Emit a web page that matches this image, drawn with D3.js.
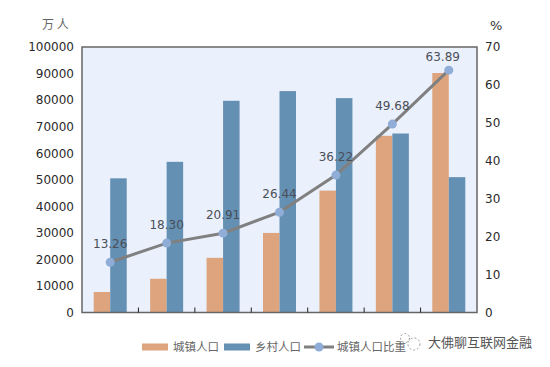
<!DOCTYPE html>
<html>
<head>
<meta charset="utf-8">
<script src="https://d3js.org/d3.v7.min.js"></script>
<style>
    html, body { margin: 0; padding: 0; background: #fff; }
    svg { display: block; }
    text { font-family: "DejaVu Sans", sans-serif; }
    .cjk { font-family: "Noto Sans CJK SC", sans-serif; }
</style>
</head>
<body>
<div id="chart"></div>
<script>
/** DATA */
// census years, the reference does not print them on the axis
const categories = ["1953", "1964", "1982", "1990", "2000", "2010", "2020"];
const urbanPop = [7726, 12710, 20591, 29971, 45906, 66557, 90199];
const ruralPop = [50534, 56748, 79736, 83397, 80739, 67415, 50979];
const urbanShare = [13.26, 18.30, 20.91, 26.44, 36.22, 49.68, 63.89];
const popTicks = [0, 10000, 20000, 30000, 40000, 50000, 60000, 70000, 80000, 90000, 100000];
const shareTicks = [0, 10, 20, 30, 40, 50, 60, 70];
const legendNames = ["城镇人口", "乡村人口", "城镇人口比重"];

// COLORS
const urbanColor = "#dda47d";
const ruralColor = "#6490b3";
const lineColor = "#808080";
const dotColor = "#8fadd6";

/** CHART */
const width = 550, height = 367;
const plotLeft = 82, plotRight = 477, plotTop = 47, plotBottom = 312.5;
const barW = 16.5;

const svg = d3.select("#chart").append("svg")
    .attr("width", width)
    .attr("height", height);

const x = d3.scaleBand().domain(categories).range([plotLeft, plotRight]);
const yPop = d3.scaleLinear().domain([0, 100000]).range([plotBottom, plotTop]);
const yShare = d3.scaleLinear().domain([0, 70]).range([plotBottom, plotTop]);

// plot background
svg.append("rect")
    .attr("x", plotLeft).attr("y", plotTop)
    .attr("width", plotRight - plotLeft).attr("height", plotBottom - plotTop)
    .attr("fill", "#eaf0fc");

// BARS
const center = d => x(d) + x.bandwidth() / 2;

svg.append("g").selectAll("rect")
    .data(categories)
    .join("rect")
    .attr("x", d => center(d) - barW)
    .attr("y", (d, i) => yPop(urbanPop[i]))
    .attr("width", barW)
    .attr("height", (d, i) => plotBottom - yPop(urbanPop[i]))
    .attr("fill", urbanColor);

svg.append("g").selectAll("rect")
    .data(categories)
    .join("rect")
    .attr("x", d => center(d))
    .attr("y", (d, i) => yPop(ruralPop[i]))
    .attr("width", barW)
    .attr("height", (d, i) => plotBottom - yPop(ruralPop[i]))
    .attr("fill", ruralColor);

// frame
svg.append("rect")
    .attr("x", plotLeft).attr("y", plotTop)
    .attr("width", plotRight - plotLeft).attr("height", plotBottom - plotTop)
    .attr("fill", "none")
    .attr("stroke", "#666")
    .attr("stroke-width", 1.5);

// AXES
const styleAxis = function(g) {
    g.select(".domain").remove();
    g.selectAll("text").attr("fill", "#2a2a2a").style("font-size", "12px");
}

svg.append("g")
    .attr("transform", `translate(${plotLeft - 1},0)`)
    .call(d3.axisLeft(yPop).tickValues(popTicks).tickSize(0).tickPadding(7).tickFormat(d3.format("d")))
    .call(styleAxis);

svg.append("g")
    .attr("transform", `translate(${plotRight + 1},0)`)
    .call(d3.axisRight(yShare).tickValues(shareTicks).tickSize(0).tickPadding(7))
    .call(styleAxis);

// tick marks sit between the groups, pointing up
const xAxis = d3.axisBottom(x).tickSize(-5).tickFormat("");
svg.append("g")
    .attr("transform", `translate(${x.bandwidth() / 2},${plotBottom})`)
    .call(xAxis)
    .call(g => g.select(".domain").remove())
    .call(g => g.selectAll(".tick").filter((d, i) => i === categories.length - 1).remove())
    .call(g => g.selectAll("line").attr("stroke", "#222").attr("stroke-width", 1));

// LINE
const line = d3.line()
    .x(d => center(d))
    .y((d, i) => yShare(urbanShare[i]));

svg.append("path")
    .datum(categories)
    .attr("d", line)
    .attr("fill", "none")
    .attr("stroke", lineColor)
    .attr("stroke-width", 3);

svg.append("g").selectAll("circle")
    .data(categories)
    .join("circle")
    .attr("cx", d => center(d))
    .attr("cy", (d, i) => yShare(urbanShare[i]))
    .attr("r", 4.5)
    .attr("fill", dotColor);

// last label sits left of its point, it would hit the frame otherwise
svg.append("g").selectAll("text")
    .data(categories)
    .join("text")
    .attr("x", (d, i) => center(d) - (i === categories.length - 1 ? 6 : 0))
    .attr("y", (d, i) => yShare(urbanShare[i]) - (i === categories.length - 1 ? 9 : 14.5))
    .attr("text-anchor", "middle")
    .attr("fill", "#4a4f58")
    .style("font-size", "12px")
    .text((d, i) => urbanShare[i].toFixed(2));

// UNITS
svg.append("text").attr("class", "cjk")
    .attr("x", 42).attr("y", 29)
    .attr("fill", "#666")
    .style("font-size", "12px")
    .text("万 人");

svg.append("text")
    .attr("x", 490).attr("y", 30)
    .attr("fill", "#333")
    .style("font-size", "13px")
    .text("%");

// LEGEND
const legendY = 347;
const legendText = function(name, lx) {
    svg.append("text").attr("class", "cjk")
        .attr("x", lx).attr("y", legendY + 4)
        .attr("fill", "#666")
        .style("font-size", "11.5px")
        .text(name);
}

svg.append("rect").attr("x", 142).attr("y", legendY - 3.5).attr("width", 26).attr("height", 7).attr("fill", urbanColor);
legendText(legendNames[0], 173);
svg.append("rect").attr("x", 224).attr("y", legendY - 3.5).attr("width", 26).attr("height", 7).attr("fill", ruralColor);
legendText(legendNames[1], 255);
svg.append("line").attr("x1", 304).attr("x2", 334).attr("y1", legendY).attr("y2", legendY)
    .attr("stroke", lineColor).attr("stroke-width", 3);
svg.append("circle").attr("cx", 319).attr("cy", legendY).attr("r", 4.5).attr("fill", dotColor);
legendText(legendNames[2], 337);

// WATERMARK
svg.append("circle")
    .attr("cx", 414).attr("cy", 344).attr("r", 6)
    .attr("fill", "#fff")
    .attr("stroke", "#999")
    .attr("stroke-dasharray", "2 2");
svg.append("circle")
    .attr("cx", 405).attr("cy", 338).attr("r", 4.5)
    .attr("fill", "#fff")
    .attr("stroke", "#999")
    .attr("stroke-dasharray", "2 2");
svg.append("text").attr("class", "cjk")
    .attr("x", 428).attr("y", 347)
    .attr("fill", "#555")
    .attr("stroke", "#fff")
    .attr("stroke-width", 2)
    .attr("paint-order", "stroke")
    .style("font-size", "13px")
    .text("大佛聊互联网金融");
</script>
</body>
</html>
